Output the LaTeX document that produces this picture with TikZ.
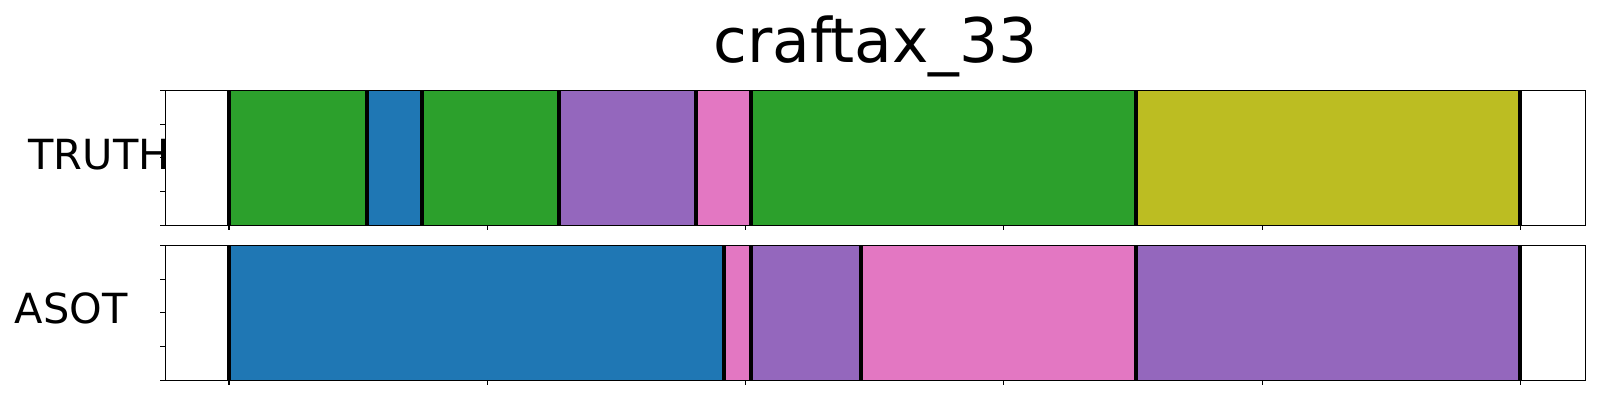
\documentclass[tikz,border=0pt]{standalone}
\usepackage{fontspec}
\setmainfont{DejaVu Sans}
\definecolor{tabgreen}{HTML}{2CA02C}
\definecolor{tabblue}{HTML}{1F77B4}
\definecolor{tabpurple}{HTML}{9467BD}
\definecolor{tabpink}{HTML}{E377C2}
\definecolor{tabolive}{HTML}{BCBD22}
\tikzset{
  lbl/.style={inner sep=0pt, font=\fontsize{41.5}{41.5}\selectfont},
  ttl/.style={inner sep=0pt, font=\fontsize{61.5}{61.5}\selectfont},
  frame/.style={draw=black, line width=1.1pt},
  tickline/.style={draw=black, line width=1.1pt},
  boundary/.style={draw=black, line width=4pt},
}
\begin{document}
\begin{tikzpicture}[x=1pt,y=-1pt]
\useasboundingbox (0,0) rectangle (1600,400);
% labels (drawn under the axes)
\node[ttl, anchor=base] (title) at (875.5,62.7) {craftax\_33};
\node[lbl, anchor=base west] (truth) at (28.3,169.5) {TRUTH};
\node[lbl, anchor=base west] (asot) at (14.5,323) {ASOT};
% axes backgrounds
\fill[white] (165.3,90.3) rectangle (1585.7,225.3);
\fill[white] (165.3,245.3) rectangle (1585.7,380.3);
% top segments
\foreach \a/\b/\c in {229/367/tabgreen, 367/422/tabblue, 422/559/tabgreen, 559/695.7/tabpurple, 695.7/751/tabpink, 751/1136/tabgreen, 1136/1520/tabolive}{
  \filldraw[fill=\c, draw=\c!85!black, line width=0.8pt] (\a,90.3) rectangle (\b,225.3);
}
% bottom segments
\foreach \a/\b/\c in {229/723.7/tabblue, 723.7/751/tabpink, 751/861/tabpurple, 861/1136/tabpink, 1136/1520/tabpurple}{
  \filldraw[fill=\c, draw=\c!85!black, line width=0.8pt] (\a,245.3) rectangle (\b,380.3);
}
% boundary lines
\foreach \x in {229,367,422,559,695.7,751,1136,1520}{
  \draw[boundary] (\x,90.3) -- (\x,225.3);
}
\foreach \x in {229,723.7,751,861,1136,1520}{
  \draw[boundary] (\x,245.3) -- (\x,380.3);
}
% frames
\draw[frame] (165.3,90.3) rectangle (1585.7,225.3);
\draw[frame] (165.3,245.3) rectangle (1585.7,380.3);
% ticks
\foreach \k in {0,...,5}{
  \pgfmathsetmacro{\tx}{229+258.26*\k}
  \draw[tickline] (\tx,225.3) -- (\tx,230.2);
  \draw[tickline] (\tx,380.3) -- (\tx,385.2);
}
\foreach \k in {0,...,4}{
  \pgfmathsetmacro{\tya}{90.3+33.75*\k}
  \pgfmathsetmacro{\tyb}{245.3+33.75*\k}
  \draw[tickline] (165.3,\tya) -- (160.4,\tya);
  \draw[tickline] (165.3,\tyb) -- (160.4,\tyb);
}
\end{tikzpicture}
\end{document}
